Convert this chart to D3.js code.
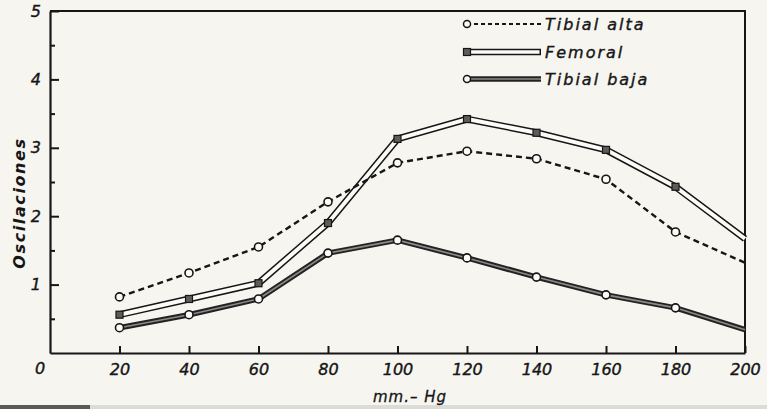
<!DOCTYPE html>
<html>
<head>
<meta charset="utf-8">
<script src="https://cdn.jsdelivr.net/npm/d3@7"></script>
<style>
  html, body { margin: 0; padding: 0; background: #f6f5f0; }
  svg { display: block; }
  text { font-family: "DejaVu Sans", sans-serif; font-style: italic; fill: #161616; }
</style>
</head>
<body>
<div id="vis"></div>
<script>
// values
let pressure = [20, 40, 60, 80, 100, 120, 140, 160, 180, 200];
let tibialAlta = [0.82, 1.17, 1.55, 2.21, 2.78, 2.95, 2.84, 2.54, 1.77, 1.32];
let femoral = [0.56, 0.79, 1.02, 1.90, 3.13, 3.42, 3.22, 2.97, 2.43, 1.67];
let tibialBaja = [0.37, 0.56, 0.79, 1.46, 1.65, 1.39, 1.11, 0.85, 0.66, 0.34];
let seriesNames = ["Tibial alta", "Femoral", "Tibial baja"];
let yTicks = [1, 2, 3, 4, 5];
let yMinor = [0.5, 1.5, 2.5, 3.5, 4.5];
let xTicks = [20, 40, 60, 80, 100, 120, 140, 160, 180, 200];

let W = 767, H = 409;

let svg = d3.select('#vis')
  .append('svg')
  .attr('width', W)
  .attr('height', H);

svg.append('rect').attr('width', W).attr('height', H).attr('fill', '#f6f5f0');
// scan edge at the bottom: dark on the left, faint elsewhere
svg.append('rect').attr('x', 0).attr('y', 405).attr('width', W).attr('height', 4).attr('fill', '#dcdcd6');
svg.append('rect').attr('x', 0).attr('y', 405).attr('width', 90).attr('height', 4).attr('fill', '#5a5a57');

let x = d3.scaleLinear().domain([0, 200]).range([50, 745]);
let y = d3.scaleLinear().domain([0, 5]).range([353, 11]);

let ink = '#161616';

// frame (top and right)
svg.append('path')
  .attr('d', `M${x(0)},${y(5)}H${x(200)}V${y(0)}`)
  .attr('fill', 'none')
  .attr('stroke', ink)
  .attr('stroke-width', 2);

// y axis
svg.append('g')
  .attr('transform', `translate(${x(0)},0)`)
  .call(d3.axisLeft(y).tickValues(yTicks).tickSizeInner(-9).tickSizeOuter(0).tickPadding(9).tickFormat(d3.format('d')));
svg.append('g')
  .attr('transform', `translate(${x(0)},0)`)
  .call(d3.axisLeft(y).tickValues(yMinor).tickSizeInner(-5).tickSizeOuter(0).tickFormat(''))
  .call(g => g.select('.domain').remove());

// x axis
let xAxis = svg.append('g')
  .attr('transform', `translate(0,${y(0)})`)
  .call(d3.axisBottom(x).tickValues(xTicks).tickSizeInner(-7).tickSizeOuter(0).tickPadding(8).tickFormat(d3.format('d')));

svg.selectAll('.domain').attr('stroke', ink).attr('stroke-width', 2.2);
svg.selectAll('.tick line').attr('stroke', ink).attr('stroke-width', 2);
svg.selectAll('.tick text')
  .attr('fill', ink)
  .attr('stroke', ink)
  .attr('stroke-width', 0.4)
  .style('font-family', '"DejaVu Sans", sans-serif')
  .style('font-style', 'italic')
  .style('font-size', '16px');
xAxis.selectAll('.tick text').attr('dy', '0.9em');

svg.append('text')
  .attr('x', x(0) - 10)
  .attr('y', y(0) + 21)
  .attr('text-anchor', 'middle')
  .attr('stroke', ink).attr('stroke-width', 0.4)
  .style('font-size', '16px')
  .text('0');

// axis titles
svg.append('text')
  .attr('x', 410)
  .attr('y', 402)
  .attr('text-anchor', 'middle')
  .attr('stroke', ink).attr('stroke-width', 0.3)
  .style('font-size', '15px')
  .style('letter-spacing', '1px')
  .text('mm.\u2013 Hg');

svg.append('text')
  .attr('transform', `translate(25,${203}) rotate(-90)`)
  .attr('text-anchor', 'middle')
  .style('font-size', '16px')
  .style('font-weight', 'bold')
  .style('letter-spacing', '1.6px')
  .text('Oscilaciones');

let line = d3.line()
  .x((d, i) => x(pressure[i]))
  .y(d => y(d));

// femoral: hollow double line
svg.append('path').datum(femoral).attr('d', line)
  .attr('fill', 'none').attr('stroke', ink).attr('stroke-width', 7).attr('stroke-linejoin', 'round');
svg.append('path').datum(femoral).attr('d', line)
  .attr('fill', 'none').attr('stroke', '#fbfbf8').attr('stroke-width', 4).attr('stroke-linejoin', 'round');

// tibial baja: heavy double line with grey core
svg.append('path').datum(tibialBaja).attr('d', line)
  .attr('fill', 'none').attr('stroke', '#222').attr('stroke-width', 5.5).attr('stroke-linejoin', 'round');
svg.append('path').datum(tibialBaja).attr('d', line)
  .attr('fill', 'none').attr('stroke', '#8a8a86').attr('stroke-width', 1.6).attr('stroke-linejoin', 'round');

// tibial alta: dashed
svg.append('path').datum(tibialAlta).attr('d', line)
  .attr('fill', 'none').attr('stroke', ink).attr('stroke-width', 2.4).attr('stroke-dasharray', '6,4');

// markers (none at 200, where the lines run into the frame)
let marked = d => d.slice(0, 9);

svg.append('g').selectAll('rect')
  .data(marked(femoral))
  .join('rect')
  .attr('x', (d, i) => x(pressure[i]) - 3.5)
  .attr('y', d => y(d) - 3.5)
  .attr('width', 7).attr('height', 7)
  .attr('fill', '#5c5c58').attr('stroke', ink).attr('stroke-width', 1.2);

[tibialBaja, tibialAlta].forEach(s => {
  svg.append('g').selectAll('circle')
    .data(marked(s))
    .join('circle')
    .attr('cx', (d, i) => x(pressure[i]))
    .attr('cy', d => y(d))
    .attr('r', 4)
    .attr('fill', '#fbfbf8').attr('stroke', ink).attr('stroke-width', 1.6);
});

// legend
let legY = [24, 52, 79];
let lx0 = 467, lx1 = 541;
let leg = svg.append('g');

// tibial alta
leg.append('line').attr('x1', lx0).attr('x2', lx1).attr('y1', legY[0]).attr('y2', legY[0])
  .attr('stroke', ink).attr('stroke-width', 2).attr('stroke-dasharray', '4,3');
leg.append('circle').attr('cx', lx0).attr('cy', legY[0]).attr('r', 3.5)
  .attr('fill', '#fbfbf8').attr('stroke', ink).attr('stroke-width', 1.5);
// femoral
leg.append('line').attr('x1', lx0).attr('x2', lx1).attr('y1', legY[1]).attr('y2', legY[1])
  .attr('stroke', ink).attr('stroke-width', 6.5);
leg.append('line').attr('x1', lx0).attr('x2', lx1 - 1.5).attr('y1', legY[1]).attr('y2', legY[1])
  .attr('stroke', '#fbfbf8').attr('stroke-width', 3.5);
leg.append('rect').attr('x', lx0 - 3.5).attr('y', legY[1] - 3.5).attr('width', 7).attr('height', 7)
  .attr('fill', '#5c5c58').attr('stroke', ink).attr('stroke-width', 1.2);
// tibial baja
leg.append('line').attr('x1', lx0).attr('x2', lx1).attr('y1', legY[2]).attr('y2', legY[2])
  .attr('stroke', '#222').attr('stroke-width', 5.5);
leg.append('line').attr('x1', lx0).attr('x2', lx1).attr('y1', legY[2]).attr('y2', legY[2])
  .attr('stroke', '#8a8a86').attr('stroke-width', 1.4);
leg.append('circle').attr('cx', lx0).attr('cy', legY[2]).attr('r', 3.5)
  .attr('fill', '#fbfbf8').attr('stroke', ink).attr('stroke-width', 1.5);

leg.selectAll('text')
  .data(seriesNames)
  .join('text')
  .attr('x', 545)
  .attr('y', (d, i) => legY[i])
  .attr('dy', '0.36em')
  .attr('stroke', ink).attr('stroke-width', 0.4)
  .style('font-size', '16px')
  .style('letter-spacing', '2px')
  .text(d => d);
</script>
</body>
</html>
